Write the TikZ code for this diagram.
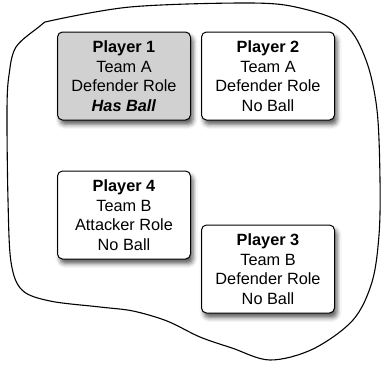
\documentclass[tikz,border=0pt]{standalone}
\usepackage{fontspec}
\setmainfont{Liberation Sans}
\usetikzlibrary{shadows.blur}
\begin{document}
\begin{tikzpicture}[x=1pt,y=-1pt,
  player/.style={draw=black, line width=1pt, rounded corners=5pt, fill=white,
    minimum width=133pt, minimum height=88pt, inner sep=0pt, align=center,
    font=\fontsize{16.3}{19.5}\selectfont,
    blur shadow={shadow xshift=2.5pt, shadow yshift=-4.5pt, shadow blur radius=4.5pt, shadow opacity=65}},
  holder/.style={player, fill=black!18},
  region/.style={draw=black, line width=1.1pt}]
\useasboundingbox (0,0) rectangle (382,365);

% irregular field boundary
\draw[region] plot[smooth, tension=0.55] coordinates {
  (45,22) (130,7) (250,3) (300,8) (345,25) (366,60) (377,110) (380,180)
  (379,235) (372,282) (353,320) (313,349) (270,360) (232,348) (200,337)
  (167,321) (133,311) (100,307) (50,301) (22,290) (11,262) (8,200)
  (7,110) (9,75) (16,47) (40,26) (45,22)};

\node[holder] (p1) at (124,76) {\textbf{Player 1}\\Team A\\Defender Role\\\textbf{\textit{Has Ball}}};
\node[player] (p2) at (268,76) {\textbf{Player 2}\\Team A\\Defender Role\\No Ball};
\node[player] (p4) at (124,215) {\textbf{Player 4}\\Team B\\Attacker Role\\No Ball};
\node[player] (p3) at (268,269) {\textbf{Player 3}\\Team B\\Defender Role\\No Ball};
\end{tikzpicture}
\end{document}
